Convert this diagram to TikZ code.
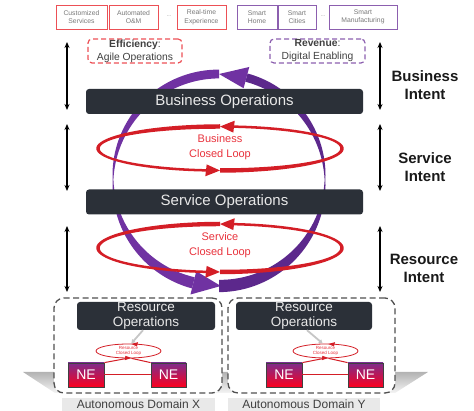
\documentclass[tikz,border=0pt]{standalone}
\usepackage{fontspec}
\setmainfont{Liberation Sans}
\usetikzlibrary{arrows.meta,calc,shapes.geometric}
\definecolor{barcol}{RGB}{43,48,56}
\definecolor{bartext}{RGB}{232,232,232}
\definecolor{loopred}{RGB}{212,30,38}
\definecolor{looptext}{RGB}{232,50,60}
\definecolor{boxred}{RGB}{236,80,86}
\definecolor{boxpurple}{RGB}{140,95,175}
\definecolor{purpA}{RGB}{112,50,162}
\definecolor{purpB}{RGB}{92,40,140}
\definecolor{txtgray}{RGB}{120,120,120}
\definecolor{darktxt}{RGB}{64,64,64}
\definecolor{nepurple}{RGB}{125,45,140}
\definecolor{nered}{RGB}{252,0,30}
\definecolor{domgray}{RGB}{80,80,80}
\definecolor{labelbg}{RGB}{233,233,233}
% tapered elliptical arc: cx cy rx ry a b width-expr colour
\newcommand{\tapArc}[8]{%
 \fill[#8] plot[domain=#5:#6,samples=90,variable=\t] ({#1+(#3+0.5*(#7))*cos(\t)},{#2-(#4+0.5*(#7))*sin(\t)})
   -- plot[domain=#6:#5,samples=90,variable=\t] ({#1+(#3-0.5*(#7))*cos(\t)},{#2-(#4-0.5*(#7))*sin(\t)}) -- cycle;}
% arrow head on an ellipse: cx cy rx ry tip base halfwidth colour
\newcommand{\arrHead}[8]{%
 \fill[#8] ({#1+#3*cos(#5)},{#2-#4*sin(#5)}) -- ({#1+(#3+#7)*cos(#6)},{#2-(#4+#7)*sin(#6)})
   -- ({#1+(#3-#7)*cos(#6)},{#2-(#4-#7)*sin(#6)}) -- cycle;}
\begin{document}
\begin{tikzpicture}[x=1pt,y=-1pt,
  topbox/.style={draw,line width=0.8pt,minimum height=24pt,inner sep=0pt,align=center,
    font=\fontsize{6.8}{8.5}\selectfont,text=txtgray},
  topR/.style={topbox,draw=boxred},
  topP/.style={topbox,draw=boxpurple},
  dots/.style={font=\fontsize{5}{5}\selectfont,text=txtgray},
  valuebox/.style={draw,dashed,dash pattern=on 5pt off 3pt,line width=1.2pt,rounded corners=4pt,
    minimum height=24pt,inner sep=0pt,align=center,font=\fontsize{10.3}{13}\selectfont,text=darktxt},
  opbar/.style={fill=barcol,rounded corners=3pt,minimum height=25pt,minimum width=277pt,
    inner sep=0pt,text=bartext,font=\fontsize{15}{18}\selectfont},
  resbar/.style={fill=barcol,rounded corners=3pt,minimum height=28pt,inner sep=0pt,align=center,
    text=bartext,font=\fontsize{13.5}{15}\selectfont},
  dombox/.style={draw=domgray,fill=white,dash pattern=on 6pt off 3.5pt,line width=1.3pt,
    rounded corners=10pt,minimum height=95pt,inner sep=0pt},
  domlabel/.style={fill=labelbg,minimum height=13pt,inner sep=0pt,text=darktxt,
    font=\fontsize{12}{12}\selectfont},
  intent/.style={align=center,font=\fontsize{15}{18}\selectfont\bfseries,text=black!90},
  intentarrow/.style={line width=1.5pt,{Stealth[length=6pt,width=5pt]}-{Stealth[length=6pt,width=5pt]}},
  looplabel/.style={align=center,text=looptext,font=\fontsize{11}{15}\selectfont},
  nebox/.style={draw=black!75,line width=0.8pt,top color=nepurple,bottom color=nered,
    minimum height=24pt,inner sep=0pt,text=white,font=\fontsize{14}{14}\selectfont},
  smallloop/.style={ellipse,draw=loopred,line width=0.8pt,minimum width=65pt,minimum height=14pt,
    inner sep=0pt,align=center,text=looptext,font=\fontsize{4.5}{5.5}\selectfont},
  nelink/.style={draw=loopred,line width=1pt},
  grayarrow/.style={draw=gray!45,line width=1.8pt,-{Latex[length=4pt,width=5pt]}}
]
\useasboundingbox (0,0) rectangle (474,411);

% floor shadow
\shade[top color=gray!60,bottom color=gray!8] (23,372) -- (428,372) -- (395,393) -- (55,393) -- cycle;

% top boxes
\node[topR,minimum width=51pt] (cs) at (81.5,17) {Customized\\Services};
\node[topR,minimum width=49pt] (om) at (133.5,17) {Automated\\O\&M};
\node[dots] (d1) at (169,16) {...};
\node[topR,minimum width=49pt] (rt) at (201.5,17) {Real-time\\Experience};
\node[topP,minimum width=40pt] (sh) at (257,17) {Smart\\Home};
\node[topP,minimum width=38pt] (sc) at (297,17) {Smart\\Cities};
\node[dots] (d2) at (323,16) {...};
\node[topP,minimum width=68pt] (sm) at (363,17) {Smart\\Manufacturing};

\node[valuebox,draw=boxred,minimum width=94pt] (eff) at (135,51) {\textbf{Efficiency}:\\Agile Operations};
\node[valuebox,draw=boxpurple,minimum width=95pt] (rev) at (317.5,51) {\textbf{Revenue}:\\Digital Enabling};

% intent arrows
\coordinate (lb1) at (67,42);  \coordinate (lb2) at (67,110);
\coordinate (ls1) at (67,124); \coordinate (ls2) at (67,191);
\coordinate (lr1) at (67,226); \coordinate (lr2) at (67,292);
\coordinate (rb1) at (380,42);  \coordinate (rb2) at (380,110);
\coordinate (rs1) at (380,124); \coordinate (rs2) at (380,191);
\coordinate (rr1) at (380,226); \coordinate (rr2) at (380,292);
\foreach \a/\b in {lb1/lb2,ls1/ls2,lr1/lr2,rb1/rb2,rs1/rs2,rr1/rr2}
  \draw[intentarrow] (\a) -- (\b);

\node[intent] (bi) at (425,85) {Business\\Intent};
\node[intent] (si) at (425,167.5) {Service\\Intent};
\node[intent] (ri) at (424,268) {Resource\\Intent};

% big purple loop
\tapArc{219}{180}{106}{106}{90}{256}{0.8+(8+3*(\t-90)/166)*abs(sin(\t))}{purpA}
\arrHead{219}{180}{106}{106}{271}{256}{12}{purpA}
\tapArc{219}{180}{106}{106}{270}{435}{0.8+(11.5-3.5*(\t-270)/165)*abs(sin(\t))}{purpB}
\arrHead{219}{180}{106}{106}{90}{75}{11}{purpA}

% operation bars
\node[opbar] (bo) at (224.5,101.5) {Business Operations};
\node[opbar] (so) at (224.5,202) {Service Operations};

% business closed loop
\tapArc{220}{148.5}{122}{22}{270}{443.4}{4.5-2*(\t-270)/173.4}{loopred}
\arrHead{220}{148.5}{122}{22}{90}{83.4}{6}{loopred}
\tapArc{220}{148.5}{122}{22}{90}{263.4}{4.5-2*(\t-90)/173.4}{loopred}
\arrHead{220}{148.5}{122}{22}{270}{263.4}{6}{loopred}
\node[looplabel] (bcl) at (220,147.5) {Business\\Closed Loop};

% service closed loop
\tapArc{220}{248}{122}{24}{270}{443.4}{4.5-2*(\t-270)/173.4}{loopred}
\arrHead{220}{248}{122}{24}{90}{83.4}{6}{loopred}
\tapArc{220}{248}{122}{24}{90}{263.4}{4.5-2*(\t-90)/173.4}{loopred}
\arrHead{220}{248}{122}{24}{270}{263.4}{6}{loopred}
\node[looplabel] (scl) at (220,245.5) {Service\\Closed Loop};

% domains
\node[dombox,minimum width=168pt] (dx) at (138,345.5) {};
\node[dombox,minimum width=167pt] (dy) at (311.5,345.5) {};
\node[resbar,minimum width=138pt] (rx) at (146,316) {Resource\\Operations};
\node[resbar,minimum width=136pt] (ry) at (304,316) {Resource\\Operations};

\node[smallloop] (lx) at (128.5,351) {Resource\\Closed Loop};
\node[smallloop] (ly) at (325.5,351) {Resource\\Closed Loop};
\arrHead{128.5}{351}{32.5}{7}{85}{74}{2.2}{loopred}
\arrHead{128.5}{351}{32.5}{7}{275}{264}{2.2}{loopred}
\arrHead{325.5}{351}{32.5}{7}{85}{74}{2.2}{loopred}
\arrHead{325.5}{351}{32.5}{7}{275}{264}{2.2}{loopred}

\draw[grayarrow] ($(rx.south)+(-3,0)$) -- (lx.70);
\draw[grayarrow] ($(ry.south)+(3,0)$) -- (ly.110);

\node[nebox,minimum width=36pt] (nx1) at (86,375) {NE};
\node[nebox,minimum width=35pt] (nx2) at (168.5,375) {NE};
\node[nebox,minimum width=36pt] (ny1) at (284,375) {NE};
\node[nebox,minimum width=35pt] (ny2) at (365.5,375) {NE};

\draw[nelink] (nx1.east) -- (nx2.west);
\draw[nelink] (nx1.north east) -- (lx.258);
\draw[nelink] (nx2.north west) -- (lx.292);
\draw[nelink] (ny1.east) -- (ny2.west);
\draw[nelink] (ny1.north east) -- (ly.258);
\draw[nelink] (ny2.north west) -- (ly.292);

\node[domlabel,minimum width=153pt] (lbx) at (138.5,404.5) {Autonomous Domain X};
\node[domlabel,minimum width=152pt] (lby) at (304,404.5) {Autonomous Domain Y};
\end{tikzpicture}
\end{document}
